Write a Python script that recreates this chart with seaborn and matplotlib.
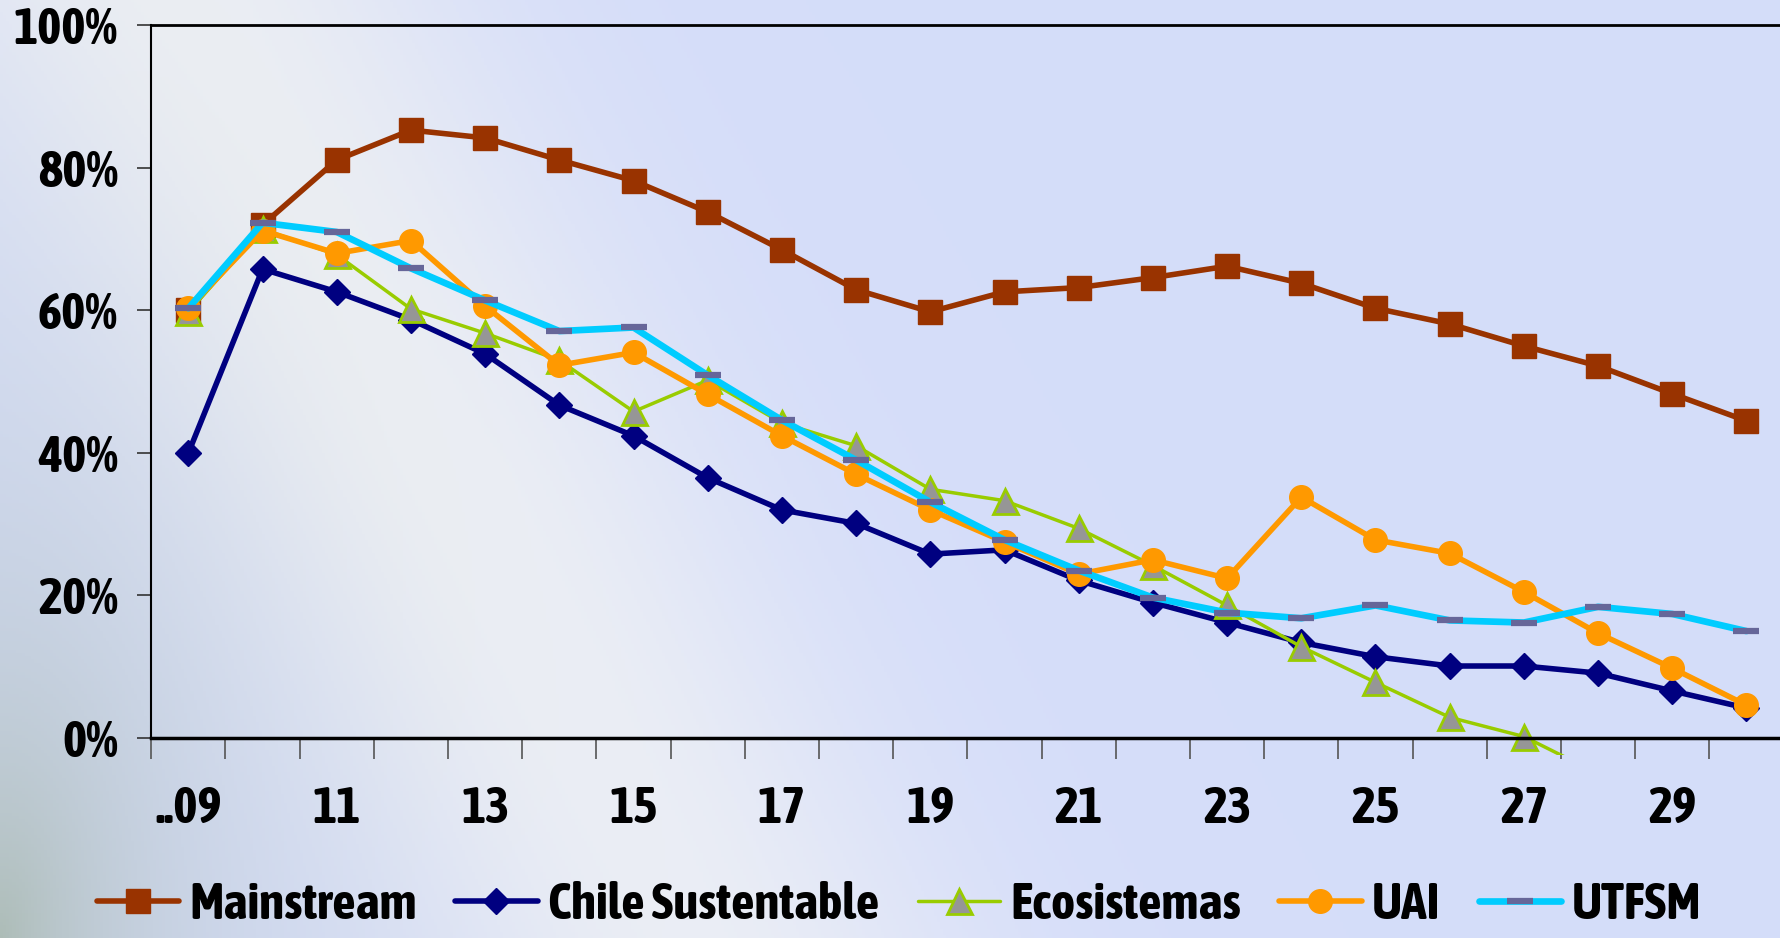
import numpy as np
import pandas as pd
import seaborn as sns
import matplotlib.pyplot as plt
from matplotlib.ticker import FixedLocator, PercentFormatter
from matplotlib import font_manager

# x categories (years 2009..2030)
years = ["..09", "10", "11", "12", "13", "14", "15", "16", "17", "18", "19",
         "20", "21", "22", "23", "24", "25", "26", "27", "28", "29", "30"]

mainstream = [0.60, 0.72, 0.811, 0.853, 0.842, 0.811, 0.782, 0.738, 0.685, 0.629, 0.598,
              0.626, 0.632, 0.646, 0.662, 0.638, 0.603, 0.581, 0.550, 0.522, 0.483, 0.445]
chile_sust = [0.40, 0.658, 0.626, 0.587, 0.539, 0.467, 0.424, 0.365, 0.320, 0.301, 0.258,
              0.264, 0.221, 0.190, 0.162, 0.134, 0.114, 0.101, 0.101, 0.091, 0.066, 0.042]
ecosistemas = [0.598, 0.714, 0.678, 0.602, 0.568, 0.530, 0.458, 0.502, 0.442, 0.410, 0.349,
               0.333, 0.294, 0.242, 0.186, 0.128, 0.078, 0.029, 0.002, -0.05, -0.10, -0.15]
uai = [0.603, 0.712, 0.680, 0.698, 0.606, 0.523, 0.541, 0.482, 0.424, 0.370, 0.320,
       0.275, 0.230, 0.250, 0.224, 0.338, 0.278, 0.259, 0.205, 0.147, 0.098, 0.046]
utfsm = [0.603, 0.723, 0.710, 0.659, 0.614, 0.571, 0.576, 0.509, 0.446, 0.390, 0.331,
         0.278, 0.235, 0.197, 0.176, 0.168, 0.186, 0.165, 0.162, 0.184, 0.174, 0.150]

series_names = ["Mainstream", "Chile Sustentable", "Ecosistemas", "UAI", "UTFSM"]

df = pd.DataFrame({"year": years, "Mainstream": mainstream,
                   "Chile Sustentable": chile_sust, "Ecosistemas": ecosistemas,
                   "UAI": uai, "UTFSM": utfsm})
df["pos"] = np.arange(len(years))
long_df = df.melt(id_vars=["year", "pos"], value_vars=series_names,
                  var_name="serie", value_name="share")

styles = {
    "Mainstream": dict(color="#993300", lw=4.0, marker="s", ms=17, mfc="#993300",
                       mec="#993300", mew=1),
    "Chile Sustentable": dict(color="#000080", lw=4.0, marker="D", ms=13, mfc="#000080",
                              mec="#000080", mew=1),
    "Ecosistemas": dict(color="#99CC00", lw=2.5, marker="^", ms=18, mfc="#969696",
                        mec="#99CC00", mew=2),
    "UAI": dict(color="#FF9900", lw=4.0, marker="o", ms=17, mfc="#FF9900",
                mec="#FF9900", mew=1),
    "UTFSM": dict(color="#00CCFF", lw=4.8, marker="_", ms=19, mfc="#666699",
                  mec="#666699", mew=4.5),
}

sns.set_theme(style="white")

# prefer a narrow bold face if one is installed
fam, size = "Liberation Sans", 30
for f in font_manager.fontManager.ttflist:
    if ("Narrow" in f.name or "Condensed" in f.name) and f.weight in ("bold", 700):
        fam, size = f.name, 37
        break
plt.rcParams["font.family"] = [fam, "DejaVu Sans"]
plt.rcParams["text.color"] = "black"
plt.rcParams["xtick.color"] = "black"
plt.rcParams["ytick.color"] = "black"

fig = plt.figure(figsize=(17.8, 9.38), dpi=100)

# background gradient
bg = fig.add_axes([0, 0, 1, 1], zorder=-5)
h, w = 300, 570
yy, xx = np.mgrid[0:1:h * 1j, 0:1:w * 1j]
base = np.array([0.835, 0.867, 0.98])
white = np.array([0.95, 0.955, 0.96])
corner = np.array([0.68, 0.74, 0.72])
band = np.exp(-((xx - (0.10 + 0.28 * yy)) / 0.16) ** 2) * 0.85
band *= np.clip(1.1 - 0.2 * yy, 0, 1)
img = base * (1 - band[..., None]) + white * band[..., None]
cw = np.exp(-np.sqrt((xx / 0.09) ** 2 + ((1 - yy) / 0.35) ** 2))[..., None]
img = img * (1 - cw) + corner * cw
bg.imshow(img, aspect="auto", extent=[0, 1, 0, 1])
bg.axis("off")

ax = fig.add_axes([0.085, 0.195, 0.917, 0.778])
ax.set_facecolor("none")

for name in series_names:
    st = styles[name]
    sub = long_df[long_df["serie"] == name]
    sns.lineplot(data=sub, x="pos", y="share", ax=ax, color=st["color"],
                 linewidth=st["lw"], marker=st["marker"], markersize=st["ms"],
                 markerfacecolor=st["mfc"], markeredgecolor=st["mec"],
                 markeredgewidth=st["mew"], label=name, legend=False,
                 errorbar=None)

ax.set_xlim(-0.5, len(years) - 0.5)
ax.set_ylim(-0.024, 1.0)
ax.spines["bottom"].set_position(("data", 0))
ax.spines["left"].set_bounds(0, 1.0)
ax.spines["right"].set_visible(False)
for s in ["top", "bottom", "left"]:
    ax.spines[s].set_color("black")
ax.spines["top"].set_linewidth(2)
ax.spines["bottom"].set_linewidth(2.5)
ax.spines["left"].set_linewidth(1.5)

ax.yaxis.set_major_locator(FixedLocator([0, 0.2, 0.4, 0.6, 0.8, 1.0]))
ax.yaxis.set_major_formatter(PercentFormatter(1.0, decimals=0))
ax.tick_params(axis="y", direction="out", length=10, width=1.2, color="#333333",
               labelsize=size, pad=14, left=True, labelcolor="black")

ax.set_xticks(np.arange(0, len(years), 2))
ax.set_xticklabels(years[::2])
ax.set_xticks(np.arange(-0.5, len(years), 1), minor=True)
ax.tick_params(axis="x", which="major", length=0, labelsize=size, pad=34,
               labelcolor="black")
ax.tick_params(axis="x", which="minor", direction="out", length=15, width=1.2,
               color="#555555", bottom=True)
for lbl in ax.get_xticklabels() + ax.get_yticklabels():
    lbl.set_fontweight("bold")

ax.set_xlabel("")
ax.set_ylabel("")
ax.grid(False)

handles, labels = ax.get_legend_handles_labels()
leg = fig.legend(handles, labels, loc="lower center", bbox_to_anchor=(0.505, -0.04),
                 ncol=5, frameon=False, prop={"size": size, "weight": "bold"},
                 handlelength=1.6, handletextpad=0.2, columnspacing=0.75)
for t in leg.get_texts():
    t.set_color("black")

fig.savefig("out.png", dpi=100)
